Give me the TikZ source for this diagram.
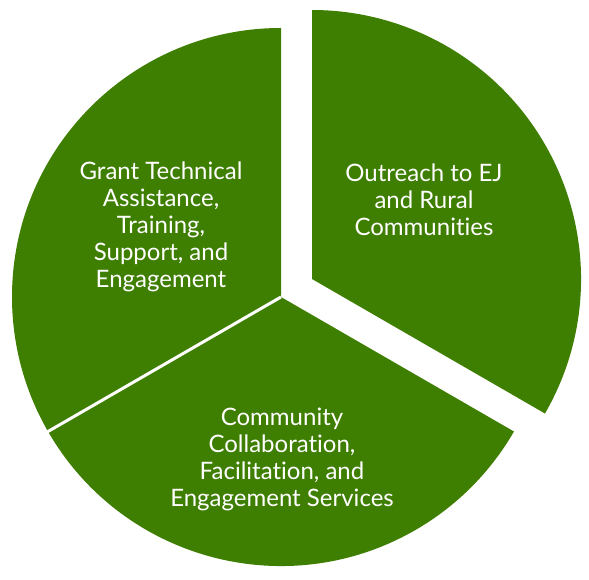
\documentclass[tikz,border=0pt]{standalone}
\usepackage{fontspec}
\setmainfont{Lato}[Ligatures={NoCommon}]
\definecolor{piegreen}{RGB}{62,126,0}
\begin{document}
\begin{tikzpicture}[x=1pt,y=1pt,
  seg/.style={fill=piegreen},
  sepline/.style={draw=white, line width=3pt},
  lbl/.style={text=white, align=center, inner sep=0pt, font=\fontsize{24}{27}\selectfont}]
\useasboundingbox (0,0) rectangle (589,579);
\coordinate (c) at (281,282);
\coordinate (e) at (312,300);
% left sector
\fill[seg] (c) -- ++(90:269) arc[start angle=90, end angle=210, radius=269] -- cycle;
% bottom sector
\fill[seg] (c) -- ++(210:269) arc[start angle=210, end angle=330, radius=269] -- cycle;
% exploded sector
\fill[seg] (e) -- ++(-30:269) arc[start angle=-30, end angle=90, radius=269] -- cycle;
% separator
\coordinate (w) at ([shift={(210:276)}]c);
\draw[sepline] (c) -- (w);
\node[lbl] (grant) at (161,352) {Grant Technical\\Assistance,\\Training,\\Support, and\\Engagement};
\node[lbl] (outreach) at (424,379) {Outreach to EJ\\and Rural\\Communities};
\node[lbl] (community) at (282,120) {Community\\Collaboration,\\Facilitation, and\\Engagement Services};
\end{tikzpicture}
\end{document}
